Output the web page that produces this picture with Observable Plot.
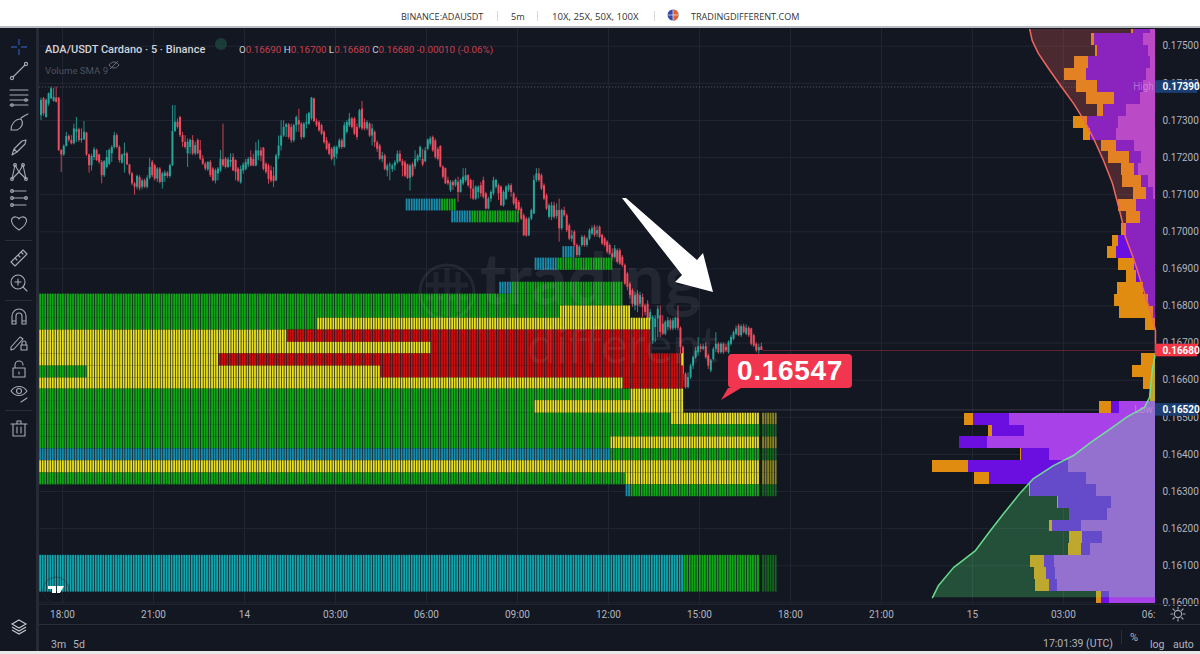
<!DOCTYPE html>
<html><head><meta charset="utf-8">
<script src="https://cdn.jsdelivr.net/npm/d3@7"></script>
<script src="https://cdn.jsdelivr.net/npm/@observablehq/plot@0.6"></script>
<style>
html,body{margin:0;padding:0;background:#131722;}
#page{position:relative;width:1200px;height:654px;overflow:hidden;font-family:Roboto,"Noto Sans",sans-serif;background:#131722;}
#page svg{display:block;}
.abs{position:absolute;white-space:nowrap;}
.hd{color:#333;font:9.1px "Open Sans",sans-serif;top:10px;}
.sep{position:absolute;background:#d8d8d8;width:1px;height:10px;top:11px;}
.r{color:#c8404e;}
</style></head><body><div id="page"></div>
<script>
// ---------- time / price axes ----------
const hourStart = 17.25, hourEnd = 54.037;
const priceTop = 0.175477, priceBottom = 0.159956;
const timeTicks = [18,21,24,27,30,33,36,39,42,45,48,51];
const timeLabels = ["18:00","21:00","14","03:00","06:00","09:00","12:00","15:00","18:00","21:00","15","03:00"];
const priceTicks = [0.175,0.174,0.173,0.172,0.171,0.170,0.169,0.168,0.167,0.166,0.165,0.164,0.163,0.162,0.161,0.160];

// ---------- candles, 5-minute bars, units of 0.00001 ----------
const candleOpen = [
17313,17358,17308,17344,17358,17351,17360,17360,17219,17207,
17230,17257,17246,17237,17268,17275,17246,17248,17266,17207,
17178,17200,17219,17207,17187,17151,17173,17182,17210,17227,
17259,17227,17185,17205,17210,17180,17156,17129,17120,17146,
17120,17137,17120,17144,17187,17178,17142,17169,17133,17149,
17158,17149,17178,17270,17295,17308,17259,17241,17210,17227,
17246,17210,17246,17219,17196,17182,17167,17187,17169,17137,
17156,17164,17194,17196,17173,17187,17200,17192,17169,
17132,17164,17168,17180,17200,17195,17177,17204,17218,17225,17182,
17177,17164,17150,17137,17204,17231,17258,17281,17288,17281,
17245,17286,17299,17290,17254,17290,17290,17304,17358,17297,
17294,17286,17268,17245,17236,17222,17200,17209,17227,17245,
17227,17268,17286,17304,17304,17281,17281,17330,17294,17277,
17290,17258,17268,17240,17231,17195,17204,17164,17177,17168,
17177,17186,17209,17189,17186,17180,17144,17180,17175,17191,
17200,17195,17189,17222,17236,17254,17245,17222,
17230,17174,17170,17138,17111,17133,17124,17133,17106,17129,17138,17151,
17138,17115,17088,17106,17124,17138,17102,17061,17088,17102,
17120,17124,17120,17070,17088,17111,17124,17102,17088,17079,
17061,17043,17034,16989,17034,17048,17138,17156,17151,17124,
17097,17039,17039,17070,17041,17057,17008,17057,17043,17016,
16980,16999,16963,16936,16963,16985,16963,16980,16994,17012,
16994,17012,16990,16981,16972,16963,16940,16931,16949,
16949,16931,16909,16886,16859,16841,16800,16832,16805,16823,16800,
16805,16765,16706,16742,16765,16774,16751,16724,16742,16760,
16738,16740,16767,16740,16688,16616,16580,16607,16638,16661,
16674,16690,16683,16690,16665,16625,16656,16683,16697,16674,
16697,16688,16674,16697,16710,16724,16746,16720,16744,16724,
16740,16738,16720,16697,16679,16690];
const candleHigh = [
17360,17362,17358,17374,17390,17387,17390,17362,17221,17234,
17268,17261,17259,17290,17308,17279,17277,17297,17268,17209,
17209,17227,17223,17209,17192,17192,17219,17223,17232,17268,
17264,17232,17209,17239,17214,17182,17160,17133,17153,17151,
17142,17142,17151,17198,17192,17182,17173,17173,17160,17164,
17162,17182,17340,17340,17304,17311,17268,17259,17250,17250,
17259,17241,17250,17246,17205,17187,17189,17192,17173,17169,
17173,17219,17290,17200,17200,17210,17210,17194,17173,
17177,17186,17195,17200,17218,17209,17240,17247,17227,17227,17186,
17182,17177,17173,17209,17258,17299,17299,17292,17292,17290,
17290,17312,17330,17294,17294,17317,17322,17362,17360,17304,
17299,17290,17272,17254,17240,17227,17231,17231,17250,17250,
17294,17299,17319,17308,17308,17290,17330,17351,17304,17299,
17294,17290,17272,17245,17236,17214,17209,17182,17186,17182,
17191,17218,17218,17195,17191,17182,17182,17186,17218,17209,
17231,17222,17227,17250,17256,17258,17250,17227,
17232,17178,17172,17147,17138,17138,17142,17147,17142,17170,17170,17154,
17142,17138,17124,17124,17133,17147,17106,17093,17111,17147,
17142,17129,17124,17111,17124,17129,17129,17106,17093,17084,
17066,17048,17039,17039,17061,17151,17170,17170,17156,17129,
17102,17075,17079,17079,17075,17088,17061,17066,17048,17021,
17003,17003,16967,16963,16990,16990,16985,17008,17016,17018,
17016,17016,16994,16985,16976,16967,16954,16963,16954,
16954,16936,16913,16891,16864,16846,16837,16841,16837,16832,16805,
16814,16791,16774,16774,16800,16800,16774,16760,16769,16765,
16767,16769,16800,16744,16692,16620,16620,16643,16665,16688,
16715,16697,16697,16701,16670,16656,16688,16728,16701,16701,
16701,16697,16706,16720,16733,16746,16751,16749,16751,16749,
16744,16740,16724,16701,16697,16700];
const candleLow = [
17300,17311,17306,17338,17356,17349,17347,17216,17160,17203,
17228,17241,17234,17234,17241,17241,17239,17246,17203,17158,
17164,17192,17189,17182,17129,17146,17169,17178,17187,17223,
17223,17185,17182,17158,17178,17151,17124,17099,17113,17110,
17113,17117,17115,17140,17146,17137,17133,17129,17115,17133,
17144,17144,17176,17268,17277,17254,17227,17223,17173,17207,
17205,17205,17207,17192,17178,17164,17162,17146,17135,17129,
17137,17160,17173,17169,17171,17173,17162,17137,17133,
17128,17155,17164,17173,17175,17175,17175,17191,17189,17164,17155,
17128,17132,17119,17135,17195,17218,17254,17254,17249,17238,
17240,17268,17268,17247,17250,17277,17286,17299,17294,17281,
17268,17259,17236,17218,17205,17191,17177,17195,17222,17222,
17225,17263,17281,17277,17259,17247,17277,17272,17272,17272,
17254,17231,17227,17214,17191,17186,17164,17148,17137,17160,
17164,17182,17186,17148,17146,17141,17110,17146,17168,17186,
17191,17175,17186,17218,17231,17214,17195,17191,
17172,17142,17127,17124,17106,17111,17120,17079,17104,17124,17133,17120,
17088,17084,17084,17088,17093,17088,17059,17059,17079,17097,
17115,17084,17068,17066,17084,17106,17093,17070,17057,17048,
17030,16987,16985,16987,17030,17046,17133,17133,17111,17084,
17057,17034,17030,17034,17034,16972,17003,17039,16998,16976,
16972,16958,16931,16931,16958,16958,16958,16976,16990,16985,
16985,16981,16963,16958,16940,16936,16927,16927,16913,
16909,16904,16855,16841,16819,16796,16787,16782,16796,16769,16773,
16760,16760,16697,16702,16715,16715,16720,16720,16733,16733,
16733,16735,16733,16670,16598,16576,16576,16602,16629,16656,
16665,16674,16679,16656,16629,16620,16652,16674,16670,16670,
16670,16674,16670,16692,16706,16720,16717,16715,16724,16720,
16715,16692,16688,16674,16670,16680];
const candleClose = [
17354,17318,17354,17372,17385,17362,17349,17219,17207,17230,
17257,17246,17237,17277,17275,17246,17250,17268,17207,17178,
17203,17221,17192,17187,17151,17189,17200,17219,17227,17259,
17227,17192,17207,17210,17180,17156,17129,17120,17149,17117,
17137,17120,17144,17173,17151,17142,17169,17133,17156,17158,
17149,17178,17270,17295,17281,17259,17241,17227,17241,17246,
17210,17232,17210,17196,17182,17169,17187,17151,17137,17164,
17169,17196,17178,17173,17194,17192,17164,17160,17137,
17168,17180,17186,17195,17177,17177,17218,17218,17204,17168,17160,
17141,17137,17135,17204,17231,17258,17281,17288,17254,17245,
17286,17308,17288,17254,17290,17294,17319,17360,17297,17286,
17272,17263,17240,17222,17209,17195,17227,17227,17245,17227,
17286,17294,17304,17281,17263,17254,17326,17277,17277,17294,
17258,17277,17240,17222,17195,17204,17168,17177,17180,17177,
17186,17209,17189,17177,17150,17144,17177,17150,17195,17204,
17227,17180,17218,17247,17250,17218,17200,17195,
17174,17147,17129,17129,17133,17124,17138,17106,17138,17147,17151,17124,
17115,17088,17120,17120,17102,17093,17061,17088,17106,17138,
17138,17102,17070,17106,17120,17124,17106,17075,17061,17057,
17034,16989,16989,17034,17057,17138,17156,17138,17115,17088,
17061,17070,17070,17039,17057,17008,17057,17043,17003,16980,
16989,16963,16936,16958,16985,16963,16980,17003,17008,16990,
17003,16985,16967,16963,16945,16940,16931,16954,16918,
16913,16909,16859,16850,16828,16805,16828,16800,16828,16796,16782,
16765,16782,16769,16765,16791,16729,16724,16756,16760,16738,
16760,16767,16740,16688,16616,16580,16607,16638,16661,16679,
16690,16683,16690,16661,16638,16652,16683,16697,16674,16697,
16674,16679,16701,16715,16728,16738,16720,16744,16728,16740,
16720,16697,16692,16679,16688,16680];

// ---------- liquidation-level segments: price band, first bar, end bar, kind ----------
const segTop =    [.17088,.17088,.17056,.17056,.16960,.16929,.16929,.16864,.16864,.16832,.16800,.16800,.16767,.16767,.16735,.16735,.16702,.16702,.16671,.16671,.16671,.16638,.16638,.16638,.16606,.16606,.16576,.16576,.16545,.16545,.16511,.16511,.16480,.16447,.16447,.16415,.16415,.16383,.16350,.16350,.16318,.16318,.16128,.16128];
const segBottom = [.17056,.17056,.17024,.17024,.16929,.16896,.16896,.16832,.16832,.16800,.16767,.16767,.16735,.16735,.16702,.16702,.16671,.16671,.16638,.16638,.16638,.16606,.16606,.16606,.16576,.16576,.16545,.16545,.16511,.16511,.16480,.16480,.16447,.16415,.16415,.16383,.16383,.16350,.16318,.16318,.16286,.16286,.16029,.16029];
const segFrom =   [145,159,163,171,207,196,205,182,187,0,0,206,0,110,0,98,0,155,0,71,254,0,19,135,0,231,0,234,0,196,0,250,0,0,226,0,226,0,0,232,232,234,0,255];
const segTo =     [159,165,171,190,212,205,227,187,231,231,206,234,110,242,98,242,155,242,71,254,255,19,135,255,231,255,234,255,196,255,250,292,292,226,292,226,292,292,232,292,234,292,255,292];
const segKind =   ["t","g","t","g","t","t","g","t","g","g","g","y","g","y","y","r","y","r","y","r","y","g","y","r","y","r","g","y","g","y","g","y","g","g","y","t","g","y","g","y","t","g","s","g"];
const kindColors = {g:"#11a816",y:"#e8e020",r:"#cc0e0e",t:"#1a8cab",s:"#10a6ae"};
const gapBar = 285;

// ---------- fixed-range volume profile, widest at the right edge ----------
const profileTop = [.17544,.17535,.17503,.17471,.17439,.17407,.17375,.17343,.17311,.17279,.17247,.17215,.17183,.17151,.17119,.17087,.17055,.17023,.16991,.16959,.16927,.16895,.16863,.16831,.16799,.16767,.16735,.16703,.16671,.16639,.16607,.16575,.16543,.16511,.16479,.16447,.16415,.16383,.16351,.16319,.16287,.16255,.16223,.16191,.16159,.16127,.16095,.16063,.16031];
const profileBottom = [.17535,.17503,.17471,.17439,.17407,.17375,.17343,.17311,.17279,.17247,.17215,.17183,.17151,.17119,.17087,.17055,.17023,.16991,.16959,.16927,.16895,.16863,.16831,.16799,.16767,.16735,.16703,.16671,.16639,.16607,.16575,.16543,.16511,.16479,.16447,.16415,.16383,.16351,.16319,.16287,.16255,.16223,.16191,.16159,.16127,.16095,.16063,.16031,.15999];
const profileLight = [5,12,7,5,9,12,15,29,37,39,21,14,17,7,2,0,0,0,0,0,0,0,0,0,0,0, 0,0, 0,0,0,0, 36,146,131,168,106,87,69,59,44,48,74,53,65,101,100,98,46];
const profileDark = [17,49,51,62,60,46,26,23,31,26,18,12,4,7,7,19,15,29,37,39,21,19,12,7,2,0, 0,0, 0,0,0,0, 8,36,32,28,28,100,97,66,53,38,29,20,9,10,9,8,8];
const profileOrange = [2.5,3.3,2,14,22,21,28,6,14,7,15,21,13,19,13,18,14,5,6,9,16,10,26,34,34,10, 0,0, 14,23,12,5, 12,9,4,0,1,36,15,1,1,0,3,13,13,14,12,14,5];
const volumeUnitsPerHour = 30.33;

// ---------- cumulative curves over the profile ----------
const upperCurvePrice = [.17545,.17515,.17480,.17440,.17394,.17346,.17294,.17240,.17192,.17130,.17079,.17025,.16985,.16928,.16869,.16809,.16769,.16734,.16680];
const upperCurveVol =   [125.7,123.3,117,107,95,82,70,60,52,43,38,33,30,22,15,8,3,0,0];
const lowerCurvePrice = [.16672,.16626,.16553,.16527,.16502,.16473,.16432,.16397,.16370,.16335,.16297,.16240,.16195,.16141,.16095,.16047,.16014];
const lowerCurveVol =   [0,3.3,6,11,28,43,65,82,102,122,135,152,165,180,202,217,223];

// ---------- price markers ----------
const highPrice = 0.17390, lowPrice = 0.16520, lastPrice = 0.16680;
const markerPrices = [0.17390,0.16680,0.16520];
const markerColors = ["#1c3f73","#f23645","#1c3f73"];

// ---------- build tables ----------
const barHour = i => hourStart + i/12;
const candles = d3.range(candleClose.length).map(i => ({
  t: barHour(i + .5), o: candleOpen[i]/1e5, h: candleHigh[i]/1e5, l: candleLow[i]/1e5, c: candleClose[i]/1e5,
  up: candleClose[i] >= candleOpen[i]
}));
const cells = segTop.flatMap((top, s) => d3.range(segFrom[s], segTo[s]).filter(i => i !== gapBar).map(i => ({
  x1: barHour(i), x2: barHour(i + 1), y1: top, y2: segBottom[s], color: kindColors[segKind[s]], dim: i > gapBar
})));
const vx = v => hourEnd - v/volumeUnitsPerHour;
const profile = profileTop.flatMap((top, i) => {
  const a = profileLight[i], b = a + profileDark[i], c = b + profileOrange[i], y2 = profileBottom[i];
  return [
    {x1: vx(a), x2: vx(0), y1: top, y2, f: "#a842e8"},
    {x1: vx(b), x2: vx(a), y1: top, y2, f: "#6a0fe0"},
    {x1: vx(c), x2: vx(b), y1: top, y2, f: "#e08c10"}
  ].filter(r => r.x1 < r.x2);
});
const upperCurve = upperCurvePrice.map((p, i) => ({p, x: vx(upperCurveVol[i])}));
const lowerCurve = lowerCurvePrice.map((p, i) => ({p, x: vx(lowerCurveVol[i])}));
const tagHalf = 0.00017, tagWidth = 1.39;
const markers = markerPrices.map((p, i) => ({p, fill: markerColors[i]}));

const uiFont = "Roboto, 'Noto Sans', sans-serif";
const chart = Plot.plot({
  width: 1200, height: 654,
  marginTop: 28, marginBottom: 50, marginLeft: 39.25, marginRight: 45,
  style: {background: "#131722", fontFamily: uiFont},
  x: {domain: [hourStart, hourEnd]},
  y: {domain: [priceBottom, priceTop]},
  marks: [
    Plot.gridX(timeTicks, {stroke: "#222633", strokeOpacity: 1}),
    Plot.gridX([54], {stroke: "#222633", strokeOpacity: 1}),
    Plot.gridY(priceTicks, {stroke: "#222633", strokeOpacity: 1}),
    Plot.ruleY([highPrice], {stroke: "#787b86", strokeOpacity: .7, strokeDasharray: "1 2"}),
    Plot.ruleY([lowPrice], {stroke: "#787b86", strokeOpacity: .35}),
    Plot.ruleY([lastPrice], {x1: barHour(candleClose.length), x2: hourEnd, stroke: "#f23645", strokeOpacity: .35}),
    // candles
    Plot.ruleX(candles, {x: "t", y1: "l", y2: "h", stroke: d => d.up ? "#26a69a" : "#e8495c", strokeWidth: 1, strokeOpacity:.85}),
    Plot.ruleX(candles, {x: "t", y1: "o", y2: "c", stroke: d => d.up ? "#26a69a" : "#ee4a5e", strokeWidth: 2}),
    // levels
    Plot.rect(cells.filter(d => !d.dim), {x1: "x1", x2: "x2", y1: "y1", y2: "y2", fill: "color", insetRight: .7}),
    Plot.rect(cells.filter(d => d.dim), {x1: "x1", x2: "x2", y1: "y1", y2: "y2", fill: "color", insetRight: .7, opacity: .55}),
    // volume profile with cumulative fills
    Plot.rect(profile, {x1: "x1", x2: "x2", y1: "y1", y2: "y2", fill: "f", shapeRendering: "crispEdges"}),
    Plot.areaX(upperCurve, {x1: "x", x2: () => hourEnd, y: "p", fill: "#f0645c", fillOpacity: .25}),
    Plot.areaX(lowerCurve, {x1: "x", x2: () => hourEnd, y: "p", fill: "#57fa82", fillOpacity: .25}),
    Plot.line(upperCurve, {x: "x", y: "p", stroke: "#f0655d", strokeWidth: 1.5}),
    Plot.line(lowerCurve, {x: "x", y: "p", stroke: "#6fe895", strokeWidth: 1.5, strokeOpacity: .9}),
    Plot.text(["High"], {x: vx(12), y: highPrice, fill: "#d9a6e6", fillOpacity: .55, fontSize: 10}),
    Plot.text(["Low"], {x: vx(12), y: lowPrice, fill: "#d9a6e6", fillOpacity: .55, fontSize: 10}),
    // axes
    Plot.axisX(timeTicks, {anchor: "bottom", tickSize: 0, tickPadding: 6, fontSize: 10, fill: "#b2b5be",
      tickFormat: d => timeLabels[timeTicks.indexOf(d)], label: null}),
    Plot.text(["06:"], {x: hourEnd, y: priceBottom, dy: 10, textAnchor: "end", fontSize: 10, fill: "#b2b5be"}),
    Plot.axisY(priceTicks, {anchor: "right", tickSize: 0, tickPadding: 7, fontSize: 10, fill: "#b2b5be",
      tickFormat: d3.format(".5f"), label: null}),
    // price tags
    Plot.rect(markers, {x1: () => hourEnd, x2: () => hourEnd + tagWidth, y1: d => d.p - tagHalf, y2: d => d.p + tagHalf, fill: "fill"}),
    Plot.text(markers, {x: () => hourEnd, y: "p", dx: 7, text: d => d3.format(".5f")(d.p), textAnchor: "start",
      fill: "#ffffff", fontSize: 10, fontWeight: 700})
  ]
});

const page = document.getElementById("page");
page.appendChild(chart);
chart.style.position = "absolute"; chart.style.left = "0"; chart.style.top = "0";

const ic = "fill='none' stroke='#a8abb5' stroke-width='1.1' stroke-linecap='round' stroke-linejoin='round'";
const icons = [
 [19,47,`<path d='M0-8V-2M0 2V8M-8 0H-2M2 0H8' fill='none' stroke='#2b4f9e' stroke-width='1.4'/>`],
 [19,71,`<path d='M-6 6L6-6' ${ic}/><circle cx='-7' cy='7' r='1.6' ${ic}/><circle cx='7' cy='-7' r='1.6' ${ic}/>`],
 [19,97,`<path d='M-9-7H9M-9-2H9M-9 3H9M-9 8H9' ${ic}/><circle cx='7' cy='3' r='1.3' ${ic}/><circle cx='-7' cy='8' r='1.3' ${ic}/>`],
 [19,122,`<path d='M-8 8C-8 2-4-3 2-3C5 1 3 6-2 8ZM2-4C4-5 6-7 9-8' ${ic}/>`],
 [19,147,`<path d='M-7 8L-5 2L3-6L7-7L6-3L-2 5ZM-5 2L-2 5' ${ic}/>`],
 [19,172,`<path d='M-7 7L-4-7L0 0L4-7L7 7L0 0ZM-7 7L-4-7M4-7L7 7' ${ic}/><circle cx='-7' cy='7' r='1.4' ${ic}/><circle cx='7' cy='7' r='1.4' ${ic}/><circle cx='-4' cy='-7' r='1.4' ${ic}/><circle cx='4' cy='-7' r='1.4' ${ic}/>`],
 [19,198,`<path d='M-7-7H7M-7 0H7M-7 7H7' ${ic}/><circle cx='-7' cy='-7' r='1.4' ${ic}/><circle cx='-7' cy='0' r='1.4' ${ic}/><circle cx='-7' cy='7' r='1.4' ${ic}/><circle cx='7' cy='0' r='1.4' ${ic}/>`],
 [19,223,`<path d='M0 7C-12-1-7-7-3-6C-1-6 0-4 0-4C0-4 1-6 3-6C7-7 12-1 0 7Z' ${ic}/>`],
 [19,258,`<path d='M-8 4L4-8L8-4L-4 8ZM-4 0L-2 2M-1-3L1-1M2-6L4-4' ${ic}/>`],
 [19,283,`<circle cx='-1' cy='-1' r='7' ${ic}/><path d='M4 4L8 8M-1-4V2M-4-1H2' ${ic}/>`],
 [19,317,`<path d='M-7 7V-1A7 7 0 0 1 7-1V7H3V-1A3 3 0 0 0-3-1V7ZM-7 4H-3M3 4H7' ${ic}/>`],
 [19,342,`<path d='M-8 5L1-5L4-3L-5 7L-8 8ZM2 3H8V8H2ZM3 3V1A2 2 0 0 1 7 1V3' ${ic}/>`],
 [19,369,`<path d='M-6-1H6V8H-6ZM-4-1V-4A4 4 0 0 1 4-4M0 3V5' ${ic}/>`],
 [19,393,`<path d='M-8-2C-4-8 4-8 8-2C4 4-4 4-8-2Z' ${ic}/><circle cx='0' cy='-2' r='2.5' ${ic}/><path d='M2 9L8 5' ${ic}/>`],
 [19,428,`<path d='M-6-4H6V8H-6ZM-8-4H8M-2-4V-7H2V-4M-2-1V5M2-1V5' ${ic}/>`],
 [19,627,`<path d='M0-7L7-3L0 1L-7-3ZM-7 0L0 4L7 0M-7 3L0 7L7 3' fill='none' stroke='#c8cad0' stroke-width='1.1'/>`],
 [1178,614,`<circle r='3.6' ${ic}/><path d='M0-7V-5M0 5V7M-7 0H-5M5 0H7M-5-5L-3.6-3.6M3.6 3.6L5 5M-5 5L-3.6 3.6M3.6-3.6L5-5' ${ic}/>`],
 [114,65,`<path d='M-5 0C-2-4 2-4 5 0C2 4-2 4-5 0ZM-4 4L4-4' fill='none' stroke='#6a6d78' stroke-width='1'/>`]
].map(([x,y,s]) => `<g transform='translate(${x},${y})'>${s}</g>`).join("");

page.insertAdjacentHTML("beforeend", `
<div class="abs" style="left:0;top:0;width:1200px;height:26px;background:#fff;border-bottom:2px solid #b9bbc0"></div>
<span class="abs hd" style="left:401px">BINANCE:ADAUSDT</span>
<span class="sep" style="left:497px"></span>
<span class="abs hd" style="left:511px">5m</span>
<span class="sep" style="left:537px"></span>
<span class="abs hd" style="left:552px;font-size:9.6px">10X, 25X, 50X, 100X</span>
<span class="sep" style="left:654px"></span>
<span class="abs hd" style="left:691px">TRADINGDIFFERENT.COM</span>
<div class="abs" style="left:0;top:28px;width:36px;height:626px;background:#131722;border-right:3px solid #262a36"></div>
<div class="abs" style="left:39px;top:604px;width:1161px;height:1px;background:#1f2330"></div>
<div class="abs" style="left:39px;top:624px;width:1161px;height:1px;background:#2a2e39"></div>
<div class="abs" style="left:0;top:651px;width:1200px;height:3px;background:#e8e8ea"></div>
<div class="abs" style="left:5px;top:240px;width:27px;height:1px;background:#2a2e39"></div>
<div class="abs" style="left:5px;top:300px;width:27px;height:1px;background:#2a2e39"></div>
<div class="abs" style="left:5px;top:410px;width:27px;height:1px;background:#2a2e39"></div>
<span class="abs" style="left:45px;top:43px;font-size:11px;font-weight:500;color:#d1d4dc">ADA/USDT Cardano · 5 · Binance</span>
<span class="abs" style="left:239px;top:44px;font-size:9.8px;color:#c9ccd4">O<span class="r">0.16690</span>&nbsp;H<span class="r">0.16700</span>&nbsp;L<span class="r">0.16680</span>&nbsp;C<span class="r">0.16680</span>&nbsp;<span class="r">-0.00010 (-0.06%)</span></span>
<span class="abs" style="left:45px;top:65px;font-size:9.6px;color:#4e515c">Volume SMA 9</span>
<span class="abs" style="left:51px;top:638px;font-size:10.5px;color:#b2b5be">3m</span>
<span class="abs" style="left:73px;top:638px;font-size:10.5px;color:#b2b5be">5d</span>
<span class="abs" style="left:1043px;top:637px;font-size:10.5px;color:#b2b5be">17:01:39 (UTC)</span>
<div class="abs" style="left:1121px;top:630px;width:1px;height:14px;background:#2a2e39"></div>
<span class="abs" style="left:1130px;top:631px;font-size:11px;color:#b2b5be">%</span>
<span class="abs" style="left:1150px;top:638px;font-size:10.5px;color:#b2b5be">log</span>
<span class="abs" style="left:1173px;top:638px;font-size:10.5px;color:#b2b5be">auto</span>
<svg class="abs" style="left:0;top:0;pointer-events:none" width="1200" height="654">
  <circle cx="447" cy="292" r="27" fill="none" stroke="#fff" stroke-opacity=".07" stroke-width="3"/>
  <path d="M436 272V312M447 268V316M458 272V312M426 285H468M426 298H468" stroke="#fff" stroke-opacity=".06" stroke-width="5" fill="none"/>
  <text x="480" y="304" font-family="Lato" font-weight="700" font-size="70" fill="#fff" fill-opacity=".07">trading</text>
  <text x="527" y="363" font-family="Lato" font-weight="400" font-size="51" fill="#fff" fill-opacity=".07">different</text>
  <polygon points="622,198 626,198 697,260 703,253 713,292 675,282 682,275" fill="#fff"/>
  <polygon points="721,400 728,388 741,388" fill="#f2364f"/>
  <circle cx="221" cy="44" r="6" fill="#1e4a40" opacity=".75"/>
  <circle cx="56" cy="590" r="13" fill="none" stroke="#232a36" stroke-opacity=".5" stroke-width="1"/>
  <path d="M48 586H56V593H52V589H48ZM57 586H64L60 593H57Z" fill="#fff"/>
  <circle cx="673" cy="15" r="5.5" fill="#3a49a8"/><path d="M673 9.5A5.5 5.5 0 0 1 673 20.5Z" fill="#e2622c"/>
  <path d="M667.5 15H678.5M673 9.5V20.5" stroke="#fff" stroke-width=".6"/>
  ${icons}
</svg>
<div class="abs" style="left:728px;top:354px;width:124px;height:34px;border-radius:4px;background:#f2364f;color:#fff;font:700 28px/34px 'Liberation Sans',sans-serif;letter-spacing:.7px;text-align:center">0.16547</div>
`);
</script></body></html>
